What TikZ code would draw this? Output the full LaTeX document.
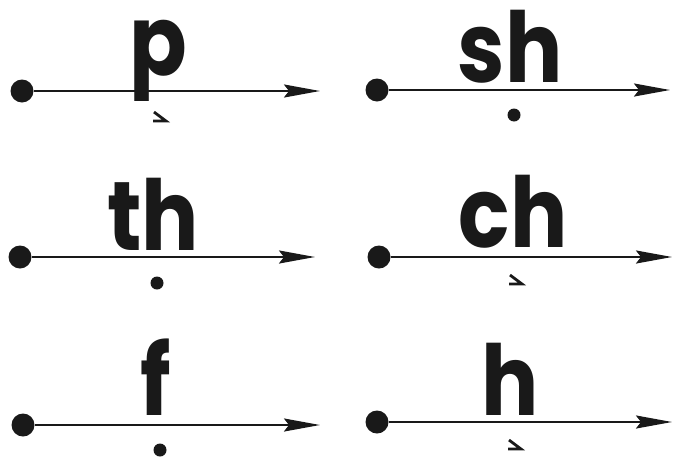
\documentclass[tikz,border=0pt]{standalone}
\usepackage{fontspec}
\newfontfamily\letterfont{Poppins}
\usetikzlibrary{arrows.meta}

\newcommand\tallletters[1]{\scalebox{1}[1.15]{#1}}

\tikzset{
  quickmark/.pic={\draw[quickstroke] (-6,-5) -- (6,4) -- (-7,4);}
}

\begin{document}
\begin{tikzpicture}[x=1pt, y=-1pt,
  startdot/.style={circle, fill=black!90, inner sep=0pt, minimum size=23pt},
  sounddot/.style={circle, fill=black!90, inner sep=0pt, minimum size=13pt},
  soundline/.style={line width=2.3pt, black!90, -{Stealth[length=36pt, width=13pt, inset=5pt]}},
  letters/.style={font=\letterfont\bfseries\fontsize{85}{85}\selectfont, inner sep=0pt, anchor=base, text=black!90},
  quickstroke/.style={line width=2.8pt, black!90, line join=miter}]
  \useasboundingbox (0,0) rectangle (674,461);

  % p (quick sound)
  \node[startdot] (p-start) at (22,91) {};
  \coordinate (p-end) at (320,91);
  \draw[soundline] (p-start) -- (p-end);
  \node[letters] (p-text) at (158,75) {\tallletters{p}};
  \pic at (160,117) {quickmark};

  % sh (long sound)
  \node[startdot] (sh-start) at (377,90) {};
  \coordinate (sh-end) at (670,90);
  \draw[soundline] (sh-start) -- (sh-end);
  \node[letters] (sh-text) at (510,82) {\tallletters{sh}};
  \node[sounddot] (sh-mark) at (514,115) {};

  % th (long sound)
  \node[startdot] (th-start) at (20,257) {};
  \coordinate (th-end) at (315,257);
  \draw[soundline] (th-start) -- (th-end);
  \node[letters] (th-text) at (153,250) {\tallletters{th}};
  \node[sounddot] (th-mark) at (157,283) {};

  % ch (quick sound)
  \node[startdot] (ch-start) at (379,257) {};
  \coordinate (ch-end) at (672,257);
  \draw[soundline] (ch-start) -- (ch-end);
  \node[letters] (ch-text) at (513,247) {\tallletters{ch}};
  \pic at (516,280) {quickmark};

  % f (long sound)
  \node[startdot] (f-start) at (23,425) {};
  \coordinate (f-end) at (320,425);
  \draw[soundline] (f-start) -- (f-end);
  \node[letters] (f-text) at (156,415) {\tallletters{f}};
  \node[sounddot] (f-mark) at (160,450) {};

  % h (quick sound)
  \node[startdot] (h-start) at (377,422) {};
  \coordinate (h-end) at (672,422);
  \draw[soundline] (h-start) -- (h-end);
  \node[letters] (h-text) at (510,415) {\tallletters{h}};
  \pic at (515,445) {quickmark};
\end{tikzpicture}
\end{document}
